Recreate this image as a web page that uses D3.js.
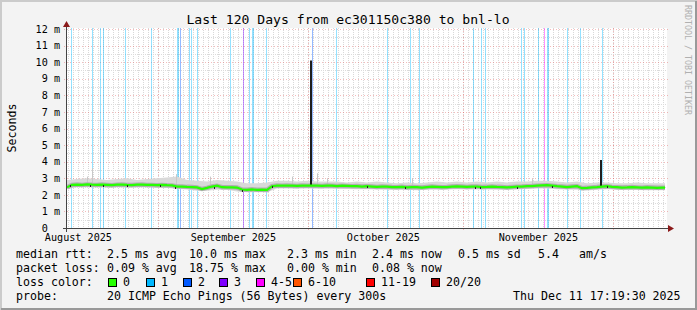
<!DOCTYPE html>
<html>
<head>
<meta charset="utf-8">
<script src="https://cdn.jsdelivr.net/npm/d3@7"></script>
<style>
body { margin: 0; background: #f3f3f3; }
svg text { font-family: "DejaVu Sans Mono", monospace; fill: #000; }
</style>
</head>
<body>
<svg width="697" height="310"></svg>
<script>
// time window of the graph
var start = new Date(2025, 7, 13, 17, 19, 30)
var end = new Date(2025, 11, 11, 17, 19, 30)

// median rtt in ms, one value per day from start
var median = [
  2.45, 2.6, 2.62, 2.6, 2.63, 2.61, 2.6, 2.62, 2.6, 2.58, 2.61, 2.62, 2.6, 2.59, 2.61, 2.62, 2.6, 2.6, 2.58, 2.6, 2.58, 2.57,
  2.5, 2.5, 2.48, 2.47, 2.45, 2.35, 2.42, 2.5, 2.55, 2.46, 2.45, 2.45, 2.44, 2.32, 2.3, 2.33, 2.3, 2.31, 2.3, 2.52,
  2.56, 2.55, 2.56, 2.55, 2.54, 2.56, 2.55, 2.56, 2.55, 2.54, 2.56, 2.55, 2.53, 2.55, 2.54, 2.52, 2.53, 2.5,
  2.52, 2.5, 2.48, 2.5, 2.49, 2.47, 2.46, 2.48, 2.45, 2.47, 2.46, 2.44, 2.47, 2.5, 2.48, 2.46, 2.47, 2.5, 2.51, 2.5,
  2.48, 2.5, 2.5, 2.47, 2.48, 2.5, 2.48, 2.47, 2.45, 2.47, 2.49, 2.5, 2.52, 2.53, 2.55, 2.57, 2.58, 2.55, 2.52, 2.5,
  2.47, 2.5, 2.52, 2.4, 2.42, 2.45, 2.47, 2.5, 2.52, 2.48, 2.46, 2.44, 2.45, 2.47, 2.45, 2.43, 2.45, 2.44, 2.42, 2.43, 2.43
]

// smoke envelope (ms), one value every 2 days
var smokeHi = [
  2.9, 2.95, 3.0, 2.95, 2.9, 2.95, 3.0, 2.9, 2.95, 3.0, 3.05,
  3.1, 2.9, 2.85, 2.8, 2.9, 2.85, 2.8, 2.7, 2.7, 2.75,
  2.85, 2.85, 2.8, 2.85, 2.8, 2.8, 2.8, 2.75, 2.8, 2.75,
  2.8, 2.75, 2.7, 2.75, 2.7, 2.75, 2.8, 2.75, 2.8, 2.75,
  2.8, 2.75, 2.8, 2.75, 2.8, 2.8, 2.85, 2.85, 2.8, 2.75,
  2.8, 2.7, 2.75, 2.75, 2.7, 2.7, 2.75, 2.7, 2.7, 2.7
]
var smokeLo = [
  2.35, 2.45, 2.45, 2.45, 2.44, 2.45, 2.43, 2.44, 2.45, 2.42, 2.42,
  2.35, 2.32, 2.25, 2.25, 2.3, 2.3, 2.2, 2.15, 2.15, 2.15,
  2.38, 2.38, 2.37, 2.38, 2.37, 2.36, 2.36, 2.35, 2.33, 2.33,
  2.32, 2.31, 2.3, 2.3, 2.28, 2.3, 2.31, 2.32, 2.33, 2.32,
  2.32, 2.32, 2.31, 2.3, 2.32, 2.35, 2.38, 2.38, 2.34, 2.32,
  2.3, 2.26, 2.3, 2.33, 2.3, 2.29, 2.29, 2.28, 2.27, 2.27
]

// single tall smoke pings: day, top (ms)
var smokeSpikeDays = [4, 5, 21.8, 28.5, 45, 50, 52, 69, 93]
var smokeSpikeTops = [3.1, 3.6, 3.25, 3.1, 3.1, 3.3, 3.0, 3.0, 2.95]

// dark outliers: day, top (ms)
var outlierDays = [48.6, 106.6]
var outlierTops = [10.1, 4.1]

// dark specks on the median line (days)
var darkDays = [0.6, 4.6, 7.2, 12, 18.6, 21.6, 29.4, 35, 41, 60, 67.6, 81.6, 82.6, 90, 97, 108]

// packet loss events: day and loss class index
var lossDays = [0.8, 5, 6.6, 7.2, 11.6, 16.8, 22, 22.2, 22.6, 24.4, 24.8, 26, 32.6, 35.2, 36.4, 37, 37.2, 39.8,
  49, 53.8, 64, 68.6, 70.4, 81.2, 82.8, 83.6, 90.8, 91.4, 94.2, 95.4, 96, 96.2, 100, 102.6, 107, 119.6]
var lossLevels = [1, 1, 1, 1, 1, 1, 1, 1, 2, 1, 1, 1, 1, 3, 1, 1, 1, 1,
  2, 1, 1, 1, 1, 1, 1, 1, 1, 1, 1, 4, 1, 1, 1, 1, 1, 1]

var lossLabels = ['0', '1', '2', '3', '4-5', '6-10', '11-19', '20/20']
var lossColors = ['#26ff00', '#00b8ff', '#0059ff', '#7e00ff', '#ff00ff', '#ff5500', '#ff0000', '#a10000']

var yTicks = [0, 1, 2, 3, 4, 5, 6, 7, 8, 9, 10, 11, 12]

var title = 'Last 120 Days from ec301150c380 to bnl-lo'
var rttLegend = ['median rtt:', '2.5 ms avg', '10.0 ms max', '2.3 ms min', '2.4 ms now', '0.5 ms sd', '5.4', 'am/s']
var lossLegend = ['packet loss:', '0.09 % avg', '18.75 % max', '0.00 % min', '0.08 % now']
var probeLegend = ['probe:', '20 ICMP Echo Pings (56 Bytes) every 300s']
var stamp = 'Thu Dec 11 17:19:30 2025'

var svg = d3.select('svg')
var W = 697, H = 310
var pLeft = 67, pRight = 667, pTop = 28, pBottom = 228

function dayDate(d) {
  return new Date(+start + d * 864e5)
}

var x = d3.scaleTime().domain([start, end]).range([pLeft, pRight])
var y = d3.scaleLinear().domain([0, 12]).range([pBottom, 29])

// frame
svg.append('rect').attr('width', W).attr('height', H).attr('fill', '#f3f3f3')
svg.append('path').attr('d', 'M1,' + H + 'V1H' + W).attr('stroke', '#cbcbcb').attr('stroke-width', 2).attr('fill', 'none')
svg.append('path').attr('d', 'M1,' + (H - 1) + 'H' + (W - 1) + 'V1').attr('stroke', '#999').attr('stroke-width', 2).attr('fill', 'none')

// canvas
svg.append('rect')
  .attr('x', pLeft).attr('y', pTop)
  .attr('width', pRight - pLeft).attr('height', pBottom - pTop)
  .attr('fill', '#fff')

svg.append('clipPath').attr('id', 'plotclip')
  .append('rect').attr('x', pLeft).attr('y', pTop).attr('width', 598).attr('height', pBottom - pTop)

// grid
var grid = svg.append('g')
grid.selectAll('.vmin')
  .data(d3.timeDay.range(start, end))
  .enter().append('line')
  .attr('x1', d => Math.round(x(d)) + 0.5).attr('x2', d => Math.round(x(d)) + 0.5)
  .attr('y1', pTop).attr('y2', pBottom)
  .attr('stroke', '#d8d8d8').attr('stroke-dasharray', '1,1')
grid.selectAll('.hmin')
  .data(d3.range(0.5, 12, 1))
  .enter().append('line')
  .attr('x1', pLeft).attr('x2', pRight)
  .attr('y1', d => Math.round(y(d)) + 0.5).attr('y2', d => Math.round(y(d)) + 0.5)
  .attr('stroke', '#dcdcdc').attr('stroke-dasharray', '1,1')
grid.selectAll('.vmaj')
  .data(d3.timeMonth.range(start, end))
  .enter().append('line')
  .attr('x1', d => Math.round(x(d)) + 0.5).attr('x2', d => Math.round(x(d)) + 0.5)
  .attr('y1', pTop).attr('y2', pBottom + 3)
  .attr('stroke', 'rgba(225,80,80,0.38)').attr('stroke-dasharray', '1,2')
grid.selectAll('.hmaj')
  .data(yTicks.slice(1))
  .enter().append('line')
  .attr('x1', pLeft - 3).attr('x2', pRight + 2)
  .attr('y1', d => Math.round(y(d)) + 0.5).attr('y2', d => Math.round(y(d)) + 0.5)
  .attr('stroke', 'rgba(225,80,80,0.38)').attr('stroke-dasharray', '1,2')

var plot = svg.append('g').attr('clip-path', 'url(#plotclip)')

// loss bars
plot.selectAll('.loss')
  .data(lossDays)
  .enter().append('rect')
  .attr('x', d => Math.round(x(dayDate(d))))
  .attr('width', d => Math.max(1, Math.round(x(dayDate(d + 0.2)) - x(dayDate(d)))))
  .attr('y', pTop).attr('height', pBottom - pTop)
  .attr('fill', (d, i) => lossColors[lossLevels[i]])
  .attr('opacity', 0.42)

// smoke
var smokeArea = d3.area()
  .x((d, i) => x(dayDate(i * 2)))
  .y0((d, i) => y(smokeLo[i]))
  .y1(d => y(d))
plot.append('path').datum(smokeHi).attr('d', smokeArea).attr('fill', '#d9d9d9')

plot.selectAll('.sspike')
  .data(smokeSpikeDays)
  .enter().append('rect')
  .attr('x', d => Math.round(x(dayDate(d))))
  .attr('width', 1)
  .attr('y', (d, i) => y(smokeSpikeTops[i]))
  .attr('height', (d, i) => y(2.6) - y(smokeSpikeTops[i]))
  .attr('fill', '#c8c8c8')

var medLine = d3.line()
  .x((d, i) => x(dayDate(i)))
  .y(d => y(d))

plot.append('path').datum(median).attr('d', medLine)
  .attr('fill', 'none').attr('stroke', '#b0b0b0').attr('stroke-width', 4.5)

// outliers
plot.selectAll('.out')
  .data(outlierDays)
  .enter().append('rect')
  .attr('x', d => Math.round(x(dayDate(d))))
  .attr('width', 2)
  .attr('y', (d, i) => y(outlierTops[i]))
  .attr('height', (d, i) => y(median[Math.round(d)]) - y(outlierTops[i]))
  .attr('fill', '#1e1e1e')

// median
plot.append('path').datum(median).attr('d', medLine)
  .attr('fill', 'none').attr('stroke', lossColors[0]).attr('stroke-width', 2.2)

plot.selectAll('.dark')
  .data(darkDays)
  .enter().append('rect')
  .attr('x', d => Math.round(x(dayDate(d))))
  .attr('y', d => Math.round(y(median[Math.round(d)])))
  .attr('width', 1).attr('height', 2)
  .attr('fill', '#222')

// axes
svg.append('line').attr('x1', pLeft - 4).attr('x2', pRight + 2)
  .attr('y1', pBottom + 0.5).attr('y2', pBottom + 0.5).attr('stroke', '#444')
svg.append('line').attr('x1', pLeft - 0.5).attr('x2', pLeft - 0.5)
  .attr('y1', pBottom + 4).attr('y2', 24).attr('stroke', '#444')
svg.append('path').attr('d', 'M' + (pRight + 1) + ',' + (pBottom - 3) + 'l6,3.5l-6,3.5z').attr('fill', '#8b1a1a')
svg.append('path').attr('d', 'M' + (pLeft - 4) + ',27l3.5,-6l3.5,6z').attr('fill', '#8b1a1a')

svg.append('g').selectAll('text')
  .data(yTicks)
  .enter().append('text')
  .attr('x', 60).attr('y', d => y(d) + 3.7)
  .attr('text-anchor', 'end')
  .style('font-size', '10.15px')
  .text(d => d === 0 ? '0\u00a0\u00a0' : d + ' m')

var months = d3.timeMonth.range(d3.timeMonth.floor(start), end)
  .map(m => d3.timeDay.offset(m, 15))
  .filter(m => m > start && m < end)
svg.append('g').selectAll('text')
  .data(months)
  .enter().append('text')
  .attr('x', d => x(d)).attr('y', 241)
  .attr('text-anchor', 'middle')
  .style('font-size', '10.15px')
  .text(d => d3.timeFormat('%B %Y')(d))

// titles
svg.append('text').attr('x', 348).attr('y', 23.5).attr('text-anchor', 'middle')
  .style('font-size', '13.1px').text(title)
svg.append('text').attr('transform', 'translate(16,128) rotate(-90)').attr('text-anchor', 'middle')
  .style('font-size', '11.6px').text('Seconds')
svg.append('text').attr('transform', 'translate(685,5) rotate(90)')
  .style('font-size', '8.3px').style('fill', '#b0b0b0')
  .text('RRDTOOL / TOBI OETIKER')

// legend
var cols = [16, 107, 189, 287, 372, 458, 538, 579]
function legendRow(items, yy) {
  items.forEach(function(t, i) {
    svg.append('text').attr('x', cols[i]).attr('y', yy)
      .style('font-size', '11.6px').text(t)
  })
}
legendRow(rttLegend, 258)
legendRow(lossLegend, 272)
legendRow(probeLegend, 300)
svg.append('text').attr('x', 513).attr('y', 300).style('font-size', '11.6px').text(stamp)

svg.append('text').attr('x', 16).attr('y', 286).style('font-size', '11.6px').text('loss color:')
var boxX = [108, 146, 183, 219, 256, 293, 366, 431]
lossLabels.forEach(function(l, i) {
  svg.append('rect').attr('x', boxX[i] + 0.5).attr('y', 278.5)
    .attr('width', 8).attr('height', 8)
    .attr('fill', lossColors[i]).attr('stroke', '#000')
  svg.append('text').attr('x', boxX[i] + 15).attr('y', 286)
    .style('font-size', '11.6px').text(l)
})
</script>
</body>
</html>
